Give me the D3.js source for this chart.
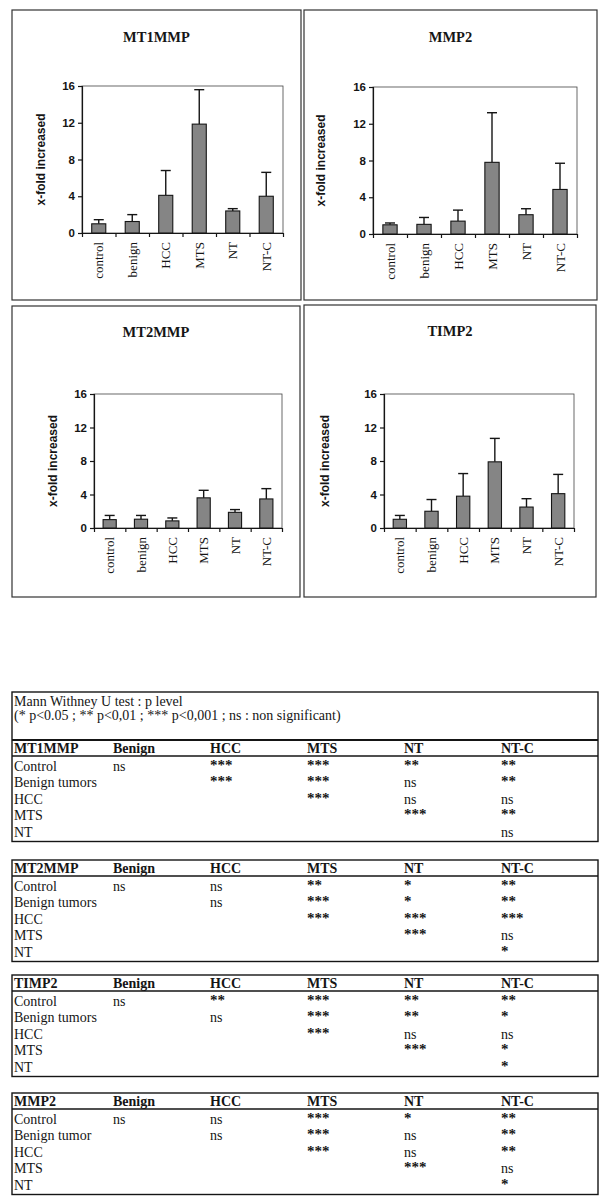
<!DOCTYPE html>
<html>
<head>
<meta charset="utf-8">
<script src="https://cdn.jsdelivr.net/npm/d3@7"></script>
<style>
  body { margin: 0; background: #fff; }
  svg { display: block; }
</style>
</head>
<body>
<svg id="fig"></svg>
<script>
// bar chart data (mean and SD, x-fold increased)
var categories = ["control", "benign", "HCC", "MTS", "NT", "NT-C"];
var yTicks = [0, 4, 8, 12, 16];

var mt1Mean = [1.0, 1.25, 4.1, 11.85, 2.4, 4.0];
var mt1Sd   = [0.45, 0.75, 2.7, 3.75, 0.25, 2.6];
var mmp2Mean = [1.0, 1.05, 1.4, 7.8, 2.1, 4.85];
var mmp2Sd   = [0.2, 0.75, 1.2, 5.4, 0.65, 2.85];
var mt2Mean = [1.0, 1.05, 0.85, 3.6, 1.87, 3.47];
var mt2Sd   = [0.5, 0.45, 0.35, 0.9, 0.33, 1.23];
var timp2Mean = [1.04, 2.0, 3.8, 7.9, 2.5, 4.1];
var timp2Sd   = [0.46, 1.4, 2.7, 2.8, 1.0, 2.3];

// significance tables
var testTitle = "Mann Withney U test : p level";
var testLegend = "(* p<0.05 ; ** p<0,01 ; *** p<0,001 ; ns : non significant)";
var tableCols = ["Benign", "HCC", "MTS", "NT", "NT-C"];
var rowLabels = ["Control", "Benign tumors", "HCC", "MTS", "NT"];
var rowLabelsMmp2 = ["Control", "Benign tumor", "HCC", "MTS", "NT"];

var mt1Sig = [
  ["ns", "***", "***", "**", "**"],
  ["", "***", "***", "ns", "**"],
  ["", "", "***", "ns", "ns"],
  ["", "", "", "***", "**"],
  ["", "", "", "", "ns"]
];
var mt2Sig = [
  ["ns", "ns", "**", "*", "**"],
  ["", "ns", "***", "*", "**"],
  ["", "", "***", "***", "***"],
  ["", "", "", "***", "ns"],
  ["", "", "", "", "*"]
];
var timp2Sig = [
  ["ns", "**", "***", "**", "**"],
  ["", "ns", "***", "**", "*"],
  ["", "", "***", "ns", "ns"],
  ["", "", "", "***", "*"],
  ["", "", "", "", "*"]
];
var mmp2Sig = [
  ["ns", "ns", "***", "*", "**"],
  ["", "ns", "***", "ns", "**"],
  ["", "", "***", "ns", "**"],
  ["", "", "", "***", "ns"],
  ["", "", "", "", "*"]
];

var W = 608, H = 1199;
var serif = "'Liberation Serif', 'Times New Roman', serif";
var sans = "'Liberation Sans', Arial, sans-serif";
var ink = "#151515";

var svg = d3.select("#fig").attr("width", W).attr("height", H);
svg.append("rect").attr("width", W).attr("height", H).attr("fill", "#fff");

var panels = [
  { title: "MT1MMP", mean: mt1Mean, sd: mt1Sd, box: [12, 10, 301, 300], plot: [82, 86, 283, 233], titleY: 42, labelX: 45 },
  { title: "MMP2", mean: mmp2Mean, sd: mmp2Sd, box: [304, 10, 597, 300], plot: [373, 87, 577, 234], titleY: 42, labelX: 325 },
  { title: "MT2MMP", mean: mt2Mean, sd: mt2Sd, box: [12, 306, 300, 597], plot: [94, 394, 282, 528], titleY: 337, labelX: 57 },
  { title: "TIMP2", mean: timp2Mean, sd: timp2Sd, box: [304, 305, 596, 597], plot: [384, 394, 574, 528], titleY: 336, labelX: 329 }
];

panels.forEach(function(p) {
  var g = svg.append("g");
  var b = p.box, pl = p.plot;

  g.append("rect")
    .attr("x", b[0]).attr("y", b[1])
    .attr("width", b[2] - b[0]).attr("height", b[3] - b[1])
    .attr("fill", "none").attr("stroke", "#333").attr("stroke-width", 1.2);

  g.append("text")
    .attr("x", (b[0] + b[2]) / 2).attr("y", p.titleY)
    .attr("text-anchor", "middle")
    .attr("font-family", serif).attr("font-weight", "bold").attr("font-size", 14.5)
    .attr("fill", ink)
    .text(p.title);

  var x = d3.scaleBand().domain(categories).range([pl[0], pl[2]])
    .paddingInner(0.58).paddingOuter(0.29);
  var xEdge = d3.scaleLinear().domain([0, categories.length]).range([pl[0], pl[2]]);
  var y = d3.scaleLinear().domain([0, 16]).range([pl[3], pl[1]]);

  // plot area frame (top / right)
  g.append("rect")
    .attr("x", pl[0]).attr("y", pl[1])
    .attr("width", pl[2] - pl[0]).attr("height", pl[3] - pl[1])
    .attr("fill", "none").attr("stroke", "#444").attr("stroke-width", 0.8);

  var rows = categories.map(function(c, i) { return { cat: c, mean: p.mean[i], sd: p.sd[i] }; });

  // error bars (upper only)
  var eb = g.selectAll(".eb").data(rows).enter().append("g").attr("class", "eb")
    .attr("stroke", ink).attr("stroke-width", 1.4);
  eb.append("line")
    .attr("x1", function(d) { return x(d.cat) + x.bandwidth() / 2; })
    .attr("x2", function(d) { return x(d.cat) + x.bandwidth() / 2; })
    .attr("y1", function(d) { return y(d.mean); })
    .attr("y2", function(d) { return y(d.mean + d.sd); });
  eb.append("line")
    .attr("x1", function(d) { return x(d.cat) + x.bandwidth() / 2 - 5; })
    .attr("x2", function(d) { return x(d.cat) + x.bandwidth() / 2 + 5; })
    .attr("y1", function(d) { return y(d.mean + d.sd); })
    .attr("y2", function(d) { return y(d.mean + d.sd); });

  g.selectAll(".bar").data(rows).enter().append("rect").attr("class", "bar")
    .attr("x", function(d) { return x(d.cat); })
    .attr("width", x.bandwidth())
    .attr("y", function(d) { return y(d.mean); })
    .attr("height", function(d) { return y(0) - y(d.mean); })
    .attr("fill", "#858585").attr("stroke", ink).attr("stroke-width", 1.1);

  var yAxis = d3.axisLeft(y).tickValues(yTicks).tickSize(4).tickPadding(3);
  var ya = g.append("g").attr("transform", "translate(" + pl[0] + ",0)").call(yAxis);
  ya.selectAll("text").attr("font-family", sans).attr("font-weight", "bold")
    .attr("font-size", 11.5).attr("fill", ink);
  ya.selectAll("line, path").attr("stroke", ink).attr("stroke-width", 1.2);

  var xAxis = d3.axisBottom(xEdge).tickValues(d3.range(categories.length + 1))
    .tickFormat("").tickSizeInner(4).tickSizeOuter(0);
  var xa = g.append("g").attr("transform", "translate(0," + pl[3] + ")").call(xAxis);
  xa.selectAll("line, path").attr("stroke", ink).attr("stroke-width", 1.2);

  g.selectAll(".cat").data(categories).enter().append("text").attr("class", "cat")
    .attr("transform", function(c) {
      return "translate(" + (x(c) + x.bandwidth() / 2 + 4.5) + "," + (pl[3] + 9) + ") rotate(-90)";
    })
    .attr("text-anchor", "end")
    .attr("font-family", serif).attr("font-size", 13).attr("fill", ink)
    .text(function(c) { return c; });

  g.append("text")
    .attr("transform", "translate(" + p.labelX + "," + ((pl[1] + pl[3]) / 2) + ") rotate(-90)")
    .attr("text-anchor", "middle")
    .attr("font-family", sans).attr("font-weight", "bold").attr("font-size", 12)
    .attr("fill", ink)
    .text("x-fold increased");
});

// tables
var colX = d3.scaleLinear().domain([1, 5]).range([113, 501]);
var tables = [
  { gene: "MT1MMP", sig: mt1Sig, labels: rowLabels, top: 692, sep: 740, header: true },
  { gene: "MT2MMP", sig: mt2Sig, labels: rowLabels, top: 860, sep: 860 },
  { gene: "TIMP2", sig: timp2Sig, labels: rowLabels, top: 975, sep: 975 },
  { gene: "MMP2", sig: mmp2Sig, labels: rowLabelsMmp2, top: 1093, sep: 1093 }
];

tables.forEach(function(t) {
  var g = svg.append("g").attr("fill", ink);
  var hb = t.sep + 13;          // header baseline
  var line = hb + 3;            // header underline
  var r0 = line + 14.5;
  var step = 16.5;
  var bottom = r0 + step * 4 + 5;

  g.append("rect")
    .attr("x", 12).attr("y", t.top).attr("width", 586).attr("height", bottom - t.top)
    .attr("fill", "none").attr("stroke", ink).attr("stroke-width", 1.4);

  if (t.header) {
    g.append("text").attr("x", 14).attr("y", t.top + 14)
      .attr("font-family", serif).attr("font-size", 14).text(testTitle);
    g.append("text").attr("x", 14).attr("y", t.top + 28)
      .attr("font-family", serif).attr("font-size", 14).text(testLegend);
    g.append("line").attr("x1", 12).attr("x2", 598).attr("y1", t.sep).attr("y2", t.sep)
      .attr("stroke", ink).attr("stroke-width", 1.8);
  }

  var head = [t.gene].concat(tableCols);
  g.selectAll(".hd").data(head).enter().append("text").attr("class", "hd")
    .attr("x", function(d, i) { return i === 0 ? 14 : colX(i); })
    .attr("y", hb)
    .attr("font-family", serif).attr("font-weight", "bold").attr("font-size", 14)
    .text(function(d) { return d; });

  g.append("line").attr("x1", 12).attr("x2", 598).attr("y1", line).attr("y2", line)
    .attr("stroke", ink).attr("stroke-width", 1.5);

  t.labels.forEach(function(lab, r) {
    var yy = r0 + step * r;
    g.append("text").attr("x", 14).attr("y", yy)
      .attr("font-family", serif).attr("font-size", 14).text(lab);
    g.selectAll(".c" + r).data(t.sig[r]).enter().append("text")
      .attr("x", function(d, i) { return colX(i + 1); })
      .attr("y", function(d) { return d.charAt(0) === "*" ? yy - 1 : yy; })
      .attr("font-family", serif)
      .attr("font-weight", function(d) { return d.charAt(0) === "*" ? "bold" : "normal"; })
      .attr("font-size", function(d) { return d.charAt(0) === "*" ? 15 : 14; })
      .text(function(d) { return d; });
  });
});
</script>
</body>
</html>
